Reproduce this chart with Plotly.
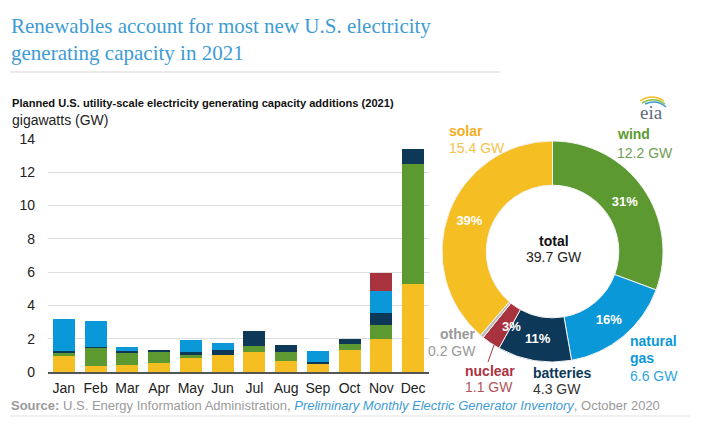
import plotly.graph_objects as go

# monthly planned additions, GW
months = ["Jan", "Feb", "Mar", "Apr", "May", "Jun", "Jul", "Aug", "Sep", "Oct", "Nov", "Dec"]
solar = [0.97, 0.38, 0.44, 0.56, 0.84, 1.02, 1.20, 0.68, 0.50, 1.31, 1.96, 5.30]
wind = [0.20, 1.07, 0.73, 0.69, 0.18, 0.00, 0.35, 0.54, 0.00, 0.39, 0.85, 7.20]
batteries = [0.12, 0.05, 0.08, 0.10, 0.20, 0.28, 0.90, 0.38, 0.10, 0.28, 0.75, 0.87]
natural_gas = [1.89, 1.58, 0.24, 0.00, 0.69, 0.45, 0.00, 0.00, 0.67, 0.00, 1.29, 0.00]
nuclear = [0, 0, 0, 0, 0, 0, 0, 0, 0, 0, 1.10, 0]

# annual totals for the donut
share_names = ["wind", "natural gas", "batteries", "nuclear", "other", "solar"]
share_gw = [12.2, 6.6, 4.3, 1.1, 0.2, 15.4]
share_pct = ["31%", "16%", "11%", "3%", "", "39%"]
total_gw = "39.7 GW"

colors = {
    "solar": "#F5BE22",
    "wind": "#5C9A31",
    "batteries": "#0D3858",
    "natural gas": "#0B98D8",
    "nuclear": "#A8333F",
    "other": "#BDBDBD",
}

W, H = 710, 428
OFF = 8  # page body margin
SANS = "Liberation Sans Narrow, Arial Narrow, Liberation Sans, Arial"


def px(x):
    return (x - OFF) / W


def py(y):
    return 1 - (y - OFF) / H


fig = go.Figure()

for name, vals in [("solar", solar), ("wind", wind), ("batteries", batteries),
                   ("natural gas", natural_gas), ("nuclear", nuclear)]:
    fig.add_trace(go.Bar(x=months, y=vals, name=name,
                         marker=dict(color=colors[name], line=dict(width=0)),
                         showlegend=False))

# small nuclear slice label goes in an annotation (plotly would shrink it)
pie_text = [t if n != "nuclear" else "" for n, t in zip(share_names, share_pct)]
fig.add_trace(go.Pie(
    labels=share_names, values=share_gw, text=pie_text,
    textinfo="text", textposition="inside", insidetextorientation="horizontal",
    textfont=dict(family="Liberation Sans, Arial", size=13, color="white", weight="bold"),
    hole=0.6, sort=False, direction="clockwise", rotation=0,
    marker=dict(colors=[colors[n] for n in share_names], line=dict(color="#F2F2F2", width=1)),
    domain=dict(x=[px(442), px(663)], y=[py(362), py(141)]),
    showlegend=False, hoverinfo="label+value",
))

fig.update_layout(
    width=W, height=H,
    margin=dict(l=0, r=0, t=0, b=0, autoexpand=False),
    paper_bgcolor="white", plot_bgcolor="white",
    barmode="stack", bargap=0.31,
    font=dict(family=SANS, color="#333333"),
    xaxis=dict(domain=[px(48), px(429)], type="category", showgrid=False, automargin=False,
               showline=True, linecolor="#555555", linewidth=2,
               tickfont=dict(size=14, color="#222222"), ticks="", ticklabelstandoff=2),
    yaxis=dict(domain=[py(372), py(139)], range=[0, 14], dtick=2, automargin=False,
               gridcolor="#DDDDDD", gridwidth=1, zeroline=False, showline=False,
               tickfont=dict(size=14, color="#222222"), ticks="", ticklabelstandoff=12),
)

ann = []
# headline
ann.append(dict(text="Renewables account for most new U.S. electricity", x=px(9), y=py(26),
                font=dict(family="Liberation Serif, Times New Roman", size=21, color="#3E9BD3")))
ann.append(dict(text="generating capacity in 2021", x=px(9), y=py(53),
                font=dict(family="Liberation Serif, Times New Roman", size=21, color="#3E9BD3")))
ann.append(dict(text="<b>Planned U.S. utility-scale electricity generating capacity additions (2021)</b>",
                x=px(10), y=py(103), font=dict(size=11.1, color="#111111")))
ann.append(dict(text="gigawatts (GW)", x=px(10), y=py(120), font=dict(size=14, color="#222222")))
ann.append(dict(text="eia", x=px(651), y=py(112), xanchor="center",
                font=dict(family="Liberation Serif, Times New Roman", size=19, color="#5F6B78")))
ann.append(dict(text="<b>Source:</b> U.S. Energy Information Administration, "
                     "<i><span style='color:#3E9BD3'>Preliminary Monthly Electric Generator Inventory</span></i>"
                     ", October 2020",
                x=px(9), y=py(405), font=dict(size=13, color="#9A9A9A")))

# donut labels
ann.append(dict(text="<b>solar</b>", x=px(447), y=py(131), font=dict(size=14, color="#F2AE1C")))
ann.append(dict(text="15.4 GW", x=px(447), y=py(148), font=dict(size=14, color="#F5C24E")))
ann.append(dict(text="<b>wind</b>", x=px(615), y=py(134), font=dict(size=14, color="#5C9A31")))
ann.append(dict(text="12.2 GW", x=px(615), y=py(153), font=dict(size=14, color="#6F9E55")))
ann.append(dict(text="<b>natural</b>", x=px(628), y=py(341), font=dict(size=14, color="#0B98D8")))
ann.append(dict(text="<b>gas</b>", x=px(628), y=py(358), font=dict(size=14, color="#0B98D8")))
ann.append(dict(text="6.6 GW", x=px(628), y=py(376), font=dict(size=14, color="#2FA4DE")))
ann.append(dict(text="<b>batteries</b>", x=px(531), y=py(373), font=dict(size=14, color="#0D3858")))
ann.append(dict(text="4.3 GW", x=px(531), y=py(389), font=dict(size=14, color="#333333")))
ann.append(dict(text="<b>nuclear</b>", x=px(463), y=py(371), font=dict(size=14, color="#A8333F")))
ann.append(dict(text="1.1 GW", x=px(463), y=py(387), font=dict(size=14, color="#B05560")))
ann.append(dict(text="<b>other</b>", x=px(478), y=py(334), xanchor="right", font=dict(size=14, color="#999999")))
ann.append(dict(text="0.2 GW", x=px(478), y=py(351), xanchor="right", font=dict(size=14, color="#999999")))
ann.append(dict(text="<b>total</b>", x=px(554), y=py(241), xanchor="center", font=dict(size=14, color="#111111")))
ann.append(dict(text=total_gw, x=px(554), y=py(257), xanchor="center", font=dict(size=14, color="#222222")))
ann.append(dict(text="<b>" + share_pct[share_names.index("nuclear")] + "</b>", x=px(511), y=py(326),
                xanchor="center", font=dict(family="Liberation Sans, Arial", size=13, color="white")))

for a in ann:
    a.setdefault("xanchor", "left")
    a.update(xref="paper", yref="paper", yanchor="middle", showarrow=False)
fig.update_layout(annotations=ann)


def arc(x0, y0, xc, yc, x1, y1):
    return f"M {px(x0)} {py(y0)} Q {px(xc)} {py(yc)} {px(x1)} {py(y1)}"


fig.update_layout(shapes=[
    dict(type="line", xref="paper", yref="paper", x0=px(10), x1=px(500), y0=py(72), y1=py(72),
         line=dict(color="#D5D5D5", width=1)),
    dict(type="line", xref="paper", yref="paper", x0=px(10), x1=px(690), y0=py(416), y1=py(416),
         line=dict(color="#E0E0E0", width=1)),
    dict(type="line", xref="paper", yref="paper", x0=px(494), x1=px(488), y0=py(345), y1=py(362),
         line=dict(color="#A8333F", width=1)),
    # eia logo swoosh
    dict(type="path", xref="paper", yref="paper", path=arc(640, 101, 652, 93, 664, 101),
         line=dict(color="#F5BE22", width=1.5)),
    dict(type="path", xref="paper", yref="paper", path=arc(642, 103, 654, 96, 665, 104),
         line=dict(color="#8CBF3F", width=1.5)),
    dict(type="path", xref="paper", yref="paper", path=arc(645, 104, 657, 99, 666, 107),
         line=dict(color="#3E9BD3", width=1.5)),
])

fig.write_html("out.html")
